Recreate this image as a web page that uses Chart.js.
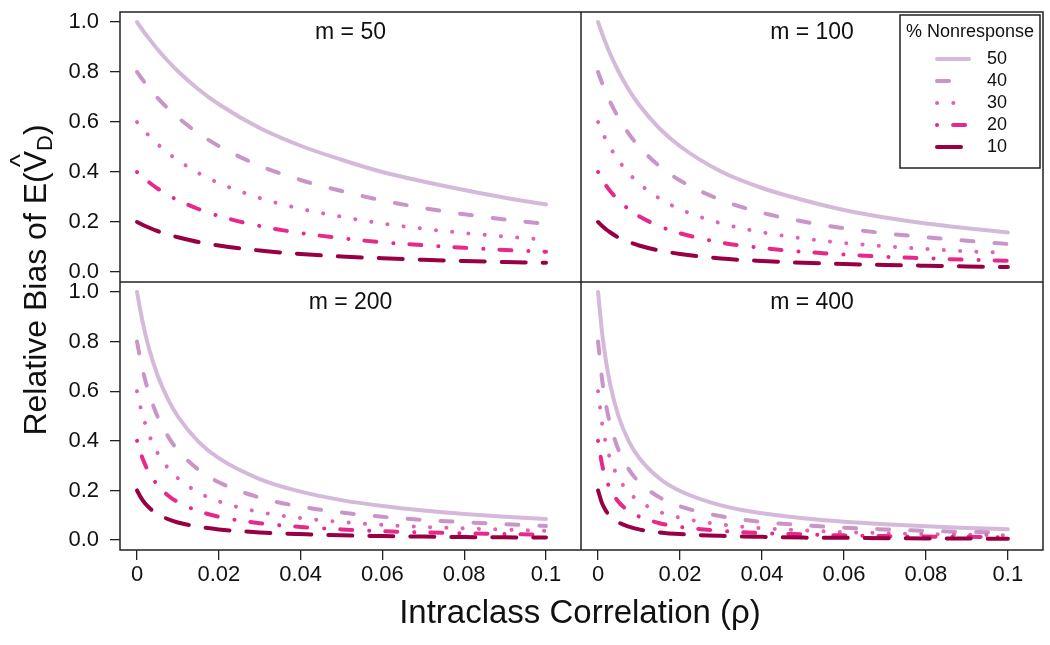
<!DOCTYPE html>
<html>
<head>
<meta charset="utf-8">
<script src="https://cdn.jsdelivr.net/npm/chart.js@4/dist/chart.umd.min.js"></script>
<style>
  body { margin: 0; background: #fff; }
  #wrap { position: relative; width: 1050px; height: 645px; font-family: "Liberation Sans", Arial, sans-serif; color: #111; }
  canvas { position: absolute; }
  #ytitle { position: absolute; left: -165px; top: 264px; width: 400px; height: 32px; line-height: 32px;
            font-size: 32px; text-align: center; white-space: nowrap; transform: rotate(-90deg); }
  #ytitle .v { position: relative; display: inline-block; }
  #ytitle .hat { position: absolute; left: 5px; top: -15px; font-size: 28px; }
  #ytitle sub { font-size: 22px; vertical-align: -6px; line-height: 0; }
  #xtitle { position: absolute; left: 330px; width: 500px; top: 592px; line-height: 40px;
            font-size: 33px; text-align: center; white-space: nowrap; }
</style>
</head>
<body>
<div id="wrap">
  <canvas id="c50" width="581" height="282" style="left:0;top:0"></canvas>
  <canvas id="c100" width="469" height="282" style="left:581px;top:0"></canvas>
  <canvas id="c200" width="581" height="363" style="left:0;top:282px"></canvas>
  <canvas id="c400" width="469" height="363" style="left:581px;top:282px"></canvas>
  <div id="ytitle">Relative Bias of E(<span class="v">V<span class="hat">^</span></span><sub>D</sub>)</div>
  <div id="xtitle">Intraclass Correlation (ρ)</div>
</div>
<script>
// intraclass correlation values where the curves were read
const RHO = [0, 0.001, 0.002, 0.003, 0.005, 0.0075, 0.01, 0.015, 0.02, 0.03, 0.04, 0.05, 0.06, 0.07, 0.08, 0.09, 0.1];

const X_TICKS = [0, 0.02, 0.04, 0.06, 0.08, 0.1];
const X_TICK_LABELS = ['0', '0.02', '0.04', '0.06', '0.08', '0.1'];
const Y_TICKS = [0, 0.2, 0.4, 0.6, 0.8, 1.0];
const Y_TICK_LABELS = ['0.0', '0.2', '0.4', '0.6', '0.8', '1.0'];

const NONRESPONSE = ['50', '40', '30', '20', '10'];

// m = 50
const m50_nr50 = [1.000, 0.976, 0.953, 0.932, 0.891, 0.845, 0.803, 0.731, 0.671, 0.576, 0.505, 0.449, 0.400, 0.362, 0.328, 0.297, 0.270];
const m50_nr40 = [0.800, 0.777, 0.756, 0.735, 0.697, 0.655, 0.618, 0.555, 0.504, 0.425, 0.368, 0.324, 0.286, 0.256, 0.231, 0.210, 0.192];
const m50_nr30 = [0.600, 0.580, 0.561, 0.544, 0.512, 0.477, 0.447, 0.396, 0.356, 0.296, 0.253, 0.221, 0.194, 0.173, 0.156, 0.142, 0.129];
const m50_nr20 = [0.400, 0.385, 0.371, 0.358, 0.334, 0.309, 0.287, 0.252, 0.224, 0.184, 0.156, 0.135, 0.119, 0.107, 0.097, 0.088, 0.081];
const m50_nr10 = [0.200, 0.192, 0.184, 0.177, 0.164, 0.150, 0.139, 0.120, 0.106, 0.086, 0.072, 0.062, 0.055, 0.049, 0.044, 0.040, 0.037];

// m = 100
const m100_nr50 = [1.000, 0.953, 0.910, 0.871, 0.802, 0.729, 0.669, 0.574, 0.503, 0.402, 0.336, 0.288, 0.248, 0.218, 0.194, 0.175, 0.158];
const m100_nr40 = [0.800, 0.755, 0.715, 0.679, 0.617, 0.553, 0.502, 0.423, 0.366, 0.288, 0.237, 0.202, 0.175, 0.155, 0.139, 0.125, 0.112];
const m100_nr30 = [0.600, 0.561, 0.527, 0.497, 0.446, 0.395, 0.354, 0.294, 0.251, 0.195, 0.159, 0.134, 0.116, 0.103, 0.092, 0.083, 0.076];
const m100_nr20 = [0.400, 0.371, 0.345, 0.323, 0.287, 0.251, 0.223, 0.183, 0.155, 0.118, 0.096, 0.081, 0.070, 0.061, 0.055, 0.049, 0.045];
const m100_nr10 = [0.200, 0.184, 0.170, 0.158, 0.138, 0.120, 0.106, 0.086, 0.072, 0.054, 0.044, 0.037, 0.032, 0.028, 0.025, 0.022, 0.020];

// m = 200
const m200_nr50 = [1.000, 0.909, 0.833, 0.768, 0.665, 0.570, 0.498, 0.397, 0.330, 0.246, 0.195, 0.161, 0.137, 0.119, 0.105, 0.094, 0.085];
const m200_nr40 = [0.800, 0.714, 0.645, 0.588, 0.499, 0.420, 0.362, 0.284, 0.233, 0.171, 0.135, 0.111, 0.094, 0.081, 0.072, 0.064, 0.057];
const m200_nr30 = [0.600, 0.526, 0.469, 0.422, 0.352, 0.292, 0.249, 0.192, 0.156, 0.113, 0.089, 0.073, 0.061, 0.053, 0.047, 0.042, 0.037];
const m200_nr20 = [0.400, 0.345, 0.303, 0.270, 0.222, 0.181, 0.153, 0.117, 0.094, 0.068, 0.053, 0.043, 0.036, 0.031, 0.027, 0.024, 0.022];
const m200_nr10 = [0.200, 0.170, 0.147, 0.130, 0.105, 0.085, 0.071, 0.054, 0.043, 0.031, 0.024, 0.019, 0.016, 0.014, 0.012, 0.011, 0.010];

// m = 400
const m400_nr50 = [1.000, 0.833, 0.714, 0.624, 0.499, 0.398, 0.332, 0.248, 0.198, 0.140, 0.108, 0.088, 0.074, 0.064, 0.056, 0.049, 0.044];
const m400_nr40 = [0.800, 0.645, 0.540, 0.465, 0.363, 0.285, 0.234, 0.172, 0.136, 0.096, 0.073, 0.060, 0.050, 0.043, 0.037, 0.033, 0.030];
const m400_nr30 = [0.600, 0.469, 0.385, 0.326, 0.250, 0.193, 0.157, 0.114, 0.090, 0.063, 0.048, 0.039, 0.032, 0.028, 0.024, 0.022, 0.019];
const m400_nr20 = [0.400, 0.303, 0.244, 0.204, 0.154, 0.117, 0.095, 0.068, 0.053, 0.037, 0.028, 0.023, 0.019, 0.016, 0.014, 0.013, 0.011];
const m400_nr10 = [0.200, 0.147, 0.116, 0.096, 0.071, 0.054, 0.043, 0.031, 0.024, 0.017, 0.013, 0.010, 0.009, 0.0075, 0.0065, 0.006, 0.005];

// line styles, one per nonresponse level
const LINE_COLORS = ['#d4b9da', '#c994c7', '#df65b0', '#e7298a', '#980043'];
const LINE_DASHES = [[], [12, 21], [0.1, 16.2], [0.1, 16, 12, 17], [24, 17]];

const FONT = '"Liberation Sans", Arial, sans-serif';
Chart.defaults.font.family = FONT;
Chart.defaults.color = '#111';

const framePlugin = {
  id: 'frame',
  afterDatasetsDraw(chart) {
    const { ctx, chartArea: a } = chart;
    ctx.save();
    ctx.strokeStyle = '#222';
    ctx.lineWidth = 1.5;
    ctx.strokeRect(a.left, a.top, a.right - a.left, a.bottom - a.top);
    ctx.restore();
  }
};

function titlePlugin(text) {
  return {
    id: 'panelTitle',
    afterDraw(chart) {
      const { ctx, chartArea: a } = chart;
      ctx.save();
      ctx.fillStyle = '#111';
      ctx.font = '23px ' + FONT;
      ctx.textAlign = 'center';
      ctx.textBaseline = 'middle';
      ctx.fillText(text, (a.left + a.right) / 2, a.top + 21);
      ctx.restore();
    }
  };
}

const legendPlugin = {
  id: 'nrLegend',
  afterDraw(chart) {
    const { ctx, chartArea: a } = chart;
    const w = 140, h = 153;
    const right = a.right - 3, top = a.top + 3, left = right - w;
    ctx.save();
    ctx.fillStyle = '#fff';
    ctx.fillRect(left, top, w, h);
    ctx.strokeStyle = '#222';
    ctx.lineWidth = 1.5;
    ctx.strokeRect(left, top, w, h);
    ctx.fillStyle = '#111';
    ctx.font = '18px ' + FONT;
    ctx.textAlign = 'center';
    ctx.textBaseline = 'middle';
    ctx.fillText('% Nonresponse', left + w / 2, top + 17);
    ctx.textAlign = 'left';
    chart.data.datasets.forEach((ds, i) => {
      const y = top + 44 + 22 * i;
      ctx.strokeStyle = ds.borderColor;
      ctx.lineWidth = ds.borderWidth;
      ctx.lineCap = 'round';
      ctx.setLineDash(ds.borderDash);
      ctx.beginPath();
      ctx.moveTo(left + 37, y);
      ctx.lineTo(left + 69, y);
      ctx.stroke();
      ctx.setLineDash([]);
      ctx.fillText(ds.label, left + 87, y);
    });
    ctx.restore();
  }
};

function noPadding(s) {
  s.paddingTop = 0; s.paddingBottom = 0; s.paddingLeft = 0; s.paddingRight = 0;
}

function makePanel(id, title, series, showX, showY, withLegend) {
  const datasets = series.map((vals, i) => ({
    label: NONRESPONSE[i],
    data: RHO.map((r, j) => ({ x: r, y: vals[j] })),
    borderColor: LINE_COLORS[i],
    borderDash: LINE_DASHES[i],
    borderWidth: 4,
    borderCapStyle: 'round',
    borderJoinStyle: 'round',
    pointRadius: 0,
    fill: false,
    cubicInterpolationMode: 'monotone',
    order: series.length - 1 - i
  }));

  const tickGrid = { drawOnChartArea: false, drawTicks: true, tickLength: 10, color: '#222', lineWidth: 1.3 };
  const plugins = [framePlugin, titlePlugin(title)];
  if (withLegend) plugins.push(legendPlugin);

  return new Chart(document.getElementById(id), {
    type: 'line',
    data: { datasets },
    options: {
      responsive: false,
      animation: false,
      events: [],
      layout: { padding: { top: showX ? 0 : 12, right: showY ? 0 : 7, left: 0, bottom: 0 } },
      plugins: { legend: { display: false }, tooltip: { enabled: false } },
      scales: {
        x: {
          type: 'linear',
          min: -0.00416,
          max: 0.10856,
          display: showX,
          position: 'bottom',
          afterBuildTicks: s => { s.ticks = X_TICKS.map(v => ({ value: v })); },
          afterFit: s => { s.height = showX ? 95 : 0; noPadding(s); },
          grid: tickGrid,
          border: { display: false },
          ticks: {
            callback: v => X_TICK_LABELS[X_TICKS.indexOf(v)],
            padding: 2,
            font: { size: 22 },
            color: '#111',
            maxRotation: 0,
            autoSkip: false
          }
        },
        y: {
          min: -0.04,
          max: 1.04,
          display: showY,
          afterBuildTicks: s => { s.ticks = Y_TICKS.map(v => ({ value: v })); },
          afterFit: s => { s.width = showY ? 120 : 0; noPadding(s); },
          grid: tickGrid,
          border: { display: false },
          ticks: {
            callback: v => Y_TICK_LABELS[Y_TICKS.indexOf(v)],
            padding: 11,
            font: { size: 22 },
            color: '#111',
            autoSkip: false
          }
        }
      }
    },
    plugins
  });
}

makePanel('c50', 'm = 50', [m50_nr50, m50_nr40, m50_nr30, m50_nr20, m50_nr10], false, true, false);
makePanel('c100', 'm = 100', [m100_nr50, m100_nr40, m100_nr30, m100_nr20, m100_nr10], false, false, true);
makePanel('c200', 'm = 200', [m200_nr50, m200_nr40, m200_nr30, m200_nr20, m200_nr10], true, true, false);
makePanel('c400', 'm = 400', [m400_nr50, m400_nr40, m400_nr30, m400_nr20, m400_nr10], true, false, false);
</script>
</body>
</html>
